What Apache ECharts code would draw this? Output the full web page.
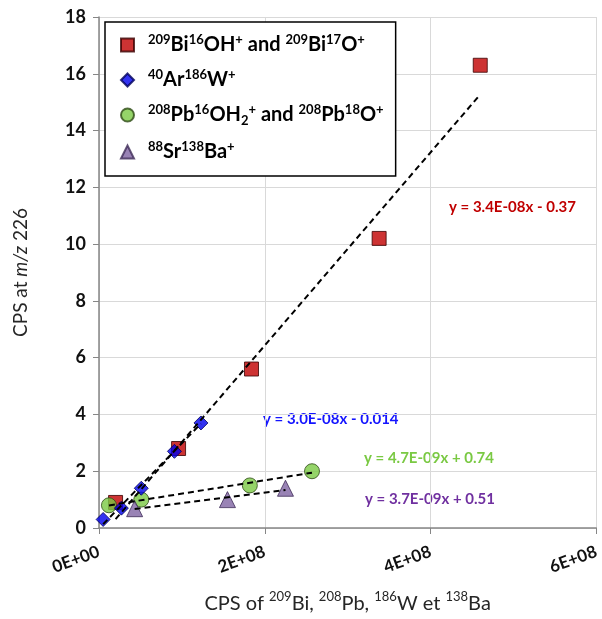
<!DOCTYPE html>
<html>
<head>
<meta charset="utf-8">
<script src="https://cdn.jsdelivr.net/npm/echarts@6/dist/echarts.min.js"></script>
<style>
  html, body { margin: 0; padding: 0; background: #fff; }
  #main { width: 602px; height: 619px; }
</style>
</head>
<body>
<div id="main"></div>
<script>
// values: [x (CPS of isotope), y (CPS at m/z 226)]
const biPoints = [[2.0e7, 0.9], [9.6e7, 2.8], [1.84e8, 5.6], [3.38e8, 10.2], [4.6e8, 16.3]];
const wPoints = [[5e6, 0.3], [2.7e7, 0.7], [5.1e7, 1.4], [9.1e7, 2.7], [1.23e8, 3.7]];
const pbPoints = [[1.2e7, 0.8], [5.1e7, 1.0], [1.82e8, 1.5], [2.57e8, 2.0]];
const baPoints = [[4.3e7, 0.68], [1.55e8, 1.0], [2.25e8, 1.4]];

// trend lines as printed on the chart: slope, intercept
const biFit = [3.4e-8, -0.37];
const wFit = [3.0e-8, -0.014];
const pbFit = [4.7e-9, 0.74];
const baFit = [3.7e-9, 0.51];

const xTicks = ['0E+00', '2E+08', '4E+08', '6E+08'];

const FONT = 'Lato';

const legendText = {
  bi: '{g|}{s|209}{t|Bi}{s|16}{t|OH}{s|+}{t| and }{s|209}{t|Bi}{s|17}{t|O}{s|+}',
  w: '{g|}{s|40}{t|Ar}{s|186}{t|W}{s|+}',
  pb: '{g|}{s|208}{t|Pb}{s|16}{t|OH}{b|2}{s|+}{t| and }{s|208}{t|Pb}{s|18}{t|O}{s|+}',
  ba: '{g|}{s|88}{t|Sr}{s|138}{t|Ba}{s|+}'
};

function fitLine(points, fit) {
  const xs = points.map(p => p[0]);
  const x0 = Math.min(...xs), x1 = Math.max(...xs);
  return [[x0, fit[0] * x0 + fit[1]], [x1, fit[0] * x1 + fit[1]]];
}

function trend(points, fit) {
  return {
    type: 'line',
    data: fitLine(points, fit),
    symbol: 'none',
    silent: true,
    z: 5,
    lineStyle: { color: '#000', width: 2, type: [6, 4] }
  };
}

const chart = echarts.init(document.getElementById('main'), null, { renderer: 'canvas' });

chart.setOption({
  animation: false,
  textStyle: { fontFamily: FONT },
  grid: { left: 99, right: 1, top: 17, bottom: 88 },
  xAxis: {
    type: 'value',
    min: 0, max: 6e8, interval: 2e8,
    name: '{n|CPS of }{s|209}{n|Bi, }{s|208}{n|Pb, }{s|186}{n|W et }{s|138}{n|Ba}',
    nameLocation: 'middle',
    nameGap: 62,
    nameTextStyle: {
      rich: {
        n: { fontFamily: FONT, fontSize: 20, color: '#262626', verticalAlign: 'bottom', lineHeight: 24 },
        s: { fontFamily: FONT, fontSize: 13, color: '#262626', verticalAlign: 'top' }
      }
    },
    axisLine: { lineStyle: { color: '#868686', width: 1.5 } },
    axisTick: { show: true, length: 6, lineStyle: { color: '#868686' } },
    axisLabel: {
      rotate: 20,
      margin: 23,
      fontFamily: FONT, fontSize: 17, fontWeight: 'bold', color: '#111',
      formatter: (v) => xTicks[Math.round(v / 2e8)]
    },
    splitLine: { show: true, lineStyle: { color: '#d9d9d9', width: 1 } }
  },
  yAxis: {
    type: 'value',
    min: 0, max: 18, interval: 2,
    name: '{n|CPS at }{i|m/z}{n| 226}',
    nameLocation: 'middle',
    nameGap: 69,
    nameTextStyle: {
      rich: {
        n: { fontFamily: FONT, fontSize: 19, color: '#262626' },
        i: { fontFamily: FONT, fontSize: 19, color: '#262626', fontStyle: 'italic' }
      }
    },
    axisLine: { show: true, lineStyle: { color: '#868686', width: 1.5 } },
    axisTick: { show: true, length: 6, lineStyle: { color: '#868686' } },
    axisLabel: { margin: 13, fontFamily: FONT, fontSize: 18, fontWeight: 'bold', color: '#111' },
    splitLine: { show: true, lineStyle: { color: '#d9d9d9', width: 1 } }
  },
  legend: {
    orient: 'vertical',
    left: 105, top: 22,
    padding: [11, 12, 14, 15],
    itemGap: 13,
    itemWidth: 13, itemHeight: 13,
    backgroundColor: '#fff',
    borderColor: '#000', borderWidth: 1.5, borderRadius: 0,
    data: ['bi', 'w', 'pb', 'ba'],
    formatter: (name) => legendText[name],
    textStyle: {
      rich: {
        g: { width: 9 },
        t: { fontFamily: FONT, fontSize: 20, fontWeight: 'bold', color: '#000', verticalAlign: 'middle', lineHeight: 24 },
        s: { fontFamily: FONT, fontSize: 13, fontWeight: 'bold', color: '#000', verticalAlign: 'top' },
        b: { fontFamily: FONT, fontSize: 13, fontWeight: 'bold', color: '#000', verticalAlign: 'bottom' }
      }
    }
  },
  series: [
    {
      name: 'bi', type: 'scatter', data: biPoints, symbol: 'rect', symbolSize: 14, z: 2,
      itemStyle: { color: '#c00000', borderColor: '#3a0000', borderWidth: 1 }
    },
    {
      name: 'pb', type: 'scatter', data: pbPoints, symbol: 'circle', symbolSize: 15, z: 2,
      itemStyle: { color: '#7ac943', borderColor: '#2d4a14', borderWidth: 1 }
    },
    {
      name: 'ba', type: 'scatter', data: baPoints, symbol: 'triangle', symbolSize: 16, z: 2,
      itemStyle: { color: '#8064a2', borderColor: '#3f2c57', borderWidth: 1 }
    },
    {
      name: 'w', type: 'scatter', data: wPoints, symbol: 'diamond', symbolSize: 14, z: 3,
      itemStyle: { color: '#0000ee', borderColor: '#00005a', borderWidth: 1 }
    },
    trend(biPoints, biFit),
    trend(wPoints, wFit),
    trend(pbPoints, pbFit),
    trend(baPoints, baFit)
  ],
  graphic: [
    { type: 'text', left: 449, top: 200, style: { text: 'y = 3.4E-08x - 0.37', fill: '#c00000', font: 'bold 15px ' + FONT } },
    { type: 'text', left: 263, top: 412, style: { text: 'y = 3.0E-08x - 0.014', fill: '#1414ff', font: 'bold 15px ' + FONT } },
    { type: 'text', left: 364, top: 451, style: { text: 'y = 4.7E-09x + 0.74', fill: '#7ac943', font: 'bold 15px ' + FONT } },
    { type: 'text', left: 365, top: 492, style: { text: 'y = 3.7E-09x + 0.51', fill: '#7030a0', font: 'bold 15px ' + FONT } }
  ]
});
</script>
</body>
</html>
